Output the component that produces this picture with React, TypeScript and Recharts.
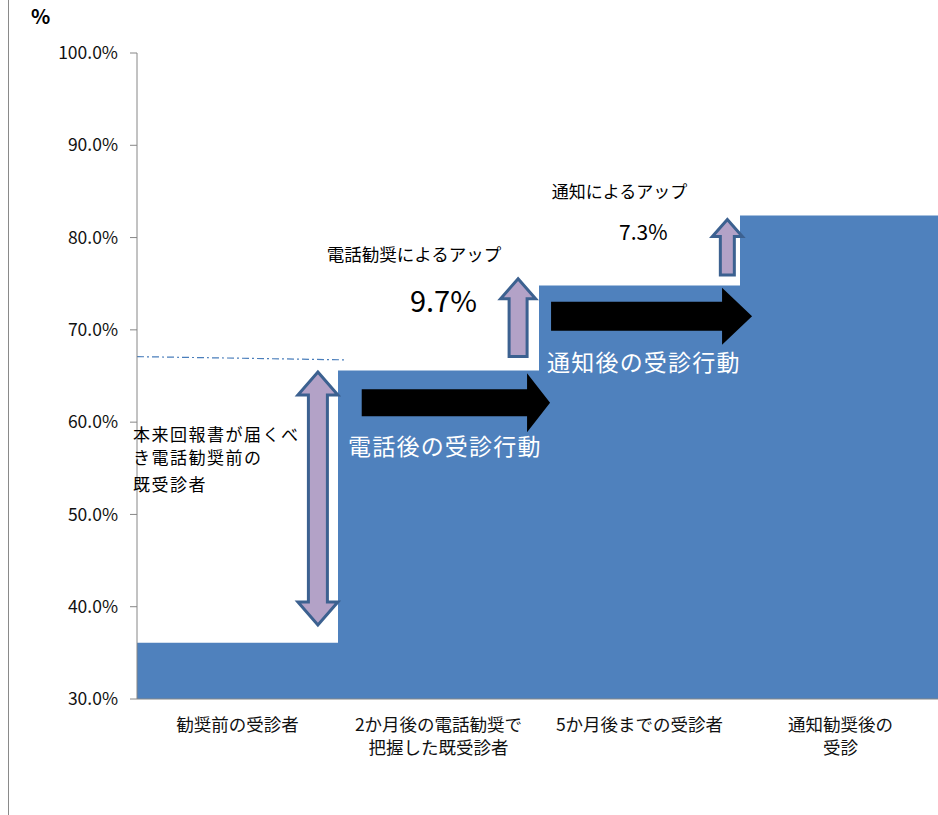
import React from "react";
import { BarChart, Bar, XAxis, YAxis, ReferenceLine, ReferenceDot } from "recharts";

const FONT = '"Noto Sans CJK JP", "Noto Sans", sans-serif';

const categories = [
  "勧奨前の受診者",
  "2か月後の電話勧奨で\n把握した既受診者",
  "5か月後までの受診者",
  "通知勧奨後の\n受診",
];
const values = [36.1, 65.6, 74.8, 82.4];
const yTicks = [30, 40, 50, 60, 70, 80, 90, 100];

// annotations, in data units (x on a 0..4 helper axis, y in %)
const baseline = { x1: 0, y1: 67.1, x2: 1.03, y2: 66.75 };

const notes = [
  { text: "本来回報書が届くべ", x: -0.02, y: 58.82, size: 17, color: "#000", spacing: 1.5 },
  { text: "き電話勧奨前の", x: -0.02, y: 56.28, size: 17, color: "#000", spacing: 1.5 },
  { text: "既受診者", x: -0.02, y: 53.4, size: 17, color: "#000", spacing: 1.5 },
  { text: "電話後の受診行動", x: 1.05, y: 57.55, size: 23, color: "#fff", spacing: 1.2 },
  { text: "通知後の受診行動", x: 2.04, y: 66.58, size: 23, color: "#fff", spacing: 1.2 },
  { text: "電話勧奨によるアップ", x: 0.944, y: 78.24, size: 17.5, color: "#000", spacing: 0 },
  { text: "9.7%", x: 1.358, y: 73.37, size: 29, color: "#000", spacing: 0 },
  { text: "通知によるアップ", x: 2.063, y: 85.1, size: 17, color: "#000", spacing: 0 },
  { text: "7.3%", x: 2.398, y: 80.74, size: 21, color: "#000", spacing: 0 },
];

const upArrows = [
  { x1: 0.9, y1: 38.02, x2: 0.9, y2: 65.43, sw: 19, hw: 40, hl: 23, double: true },
  { x1: 1.896, y1: 67.1, x2: 1.896, y2: 75.54, sw: 18, hw: 35, hl: 20, double: false },
  { x1: 2.937, y1: 75.95, x2: 2.937, y2: 81.96, sw: 14, hw: 30, hl: 17, double: false },
];

const rightArrows = [
  { x1: 1.118, y1: 62.1, x2: 2.055, y2: 62.1, sw: 27, hw: 59, hl: 23 },
  { x1: 2.06, y1: 71.47, x2: 3.06, y2: 71.47, sw: 29, hw: 57, hl: 30 },
];

const chartData = categories.map((name, i) => ({ name, value: values[i] }));

function arrowShape(sw: number, hw: number, hl: number, double: boolean, fill: string, stroke?: string) {
  return (p: any) => {
    const { x1, y1, x2, y2 } = p;
    const len = Math.hypot(x2 - x1, y2 - y1) || 1;
    const dx = (x2 - x1) / len;
    const dy = (y2 - y1) / len;
    const nx = -dy;
    const ny = dx;
    const pt = (bx: number, by: number, along: number, side: number) =>
      `${bx + dx * along + nx * side},${by + dy * along + ny * side}`;
    let pts: string[];
    if (double) {
      pts = [
        pt(x2, y2, 0, 0),
        pt(x2, y2, -hl, hw / 2),
        pt(x2, y2, -hl, sw / 2),
        pt(x1, y1, hl, sw / 2),
        pt(x1, y1, hl, hw / 2),
        pt(x1, y1, 0, 0),
        pt(x1, y1, hl, -hw / 2),
        pt(x1, y1, hl, -sw / 2),
        pt(x2, y2, -hl, -sw / 2),
        pt(x2, y2, -hl, -hw / 2),
      ];
    } else {
      pts = [
        pt(x2, y2, 0, 0),
        pt(x2, y2, -hl, hw / 2),
        pt(x2, y2, -hl, sw / 2),
        pt(x1, y1, 0, sw / 2),
        pt(x1, y1, 0, -sw / 2),
        pt(x2, y2, -hl, -sw / 2),
        pt(x2, y2, -hl, -hw / 2),
      ];
    }
    return (
      <polygon
        points={pts.join(" ")}
        fill={fill}
        stroke={stroke || "none"}
        strokeWidth={stroke ? 3 : 0}
        strokeLinejoin="miter"
      />
    );
  };
}

function noteShape(n: (typeof notes)[number]) {
  return (p: any) => (
    <text
      x={p.cx}
      y={p.cy}
      dominantBaseline="central"
      fontSize={n.size}
      fill={n.color}
      fontFamily={FONT}
      letterSpacing={n.spacing}
    >
      {n.text}
    </text>
  );
}

function CategoryTick({ x, y, payload }: any) {
  const lines = String(payload.value).split("\n");
  return (
    <text x={x} y={y + 32} textAnchor="middle" fontSize={17.5} fill="#111" fontFamily={FONT}>
      {lines.map((l, i) => (
        <tspan key={i} x={x} dy={i === 0 ? 0 : 23}>
          {l}
        </tspan>
      ))}
    </text>
  );
}

export default function App() {
  return (
    <div
      style={{
        position: "fixed",
        left: 0,
        top: 0,
        width: 938,
        height: 815,
        overflow: "hidden",
        background: "#fff",
        fontFamily: FONT,
      }}
    >
      <div style={{ position: "absolute", left: 8, top: 0, width: 1, height: 815, background: "#8a8a8a" }} />
      <div
        style={{
          position: "absolute",
          left: 31,
          top: 3,
          fontSize: 20,
          fontWeight: 700,
          lineHeight: "26px",
          color: "#000",
        }}
      >
        %
      </div>
      <BarChart
        width={941}
        height={815}
        data={chartData}
        margin={{ top: 53, right: 0, bottom: 0, left: 0 }}
        barCategoryGap={0}
      >
        <XAxis
          dataKey="name"
          height={116}
          tickLine={false}
          tickSize={0}
          tickMargin={0}
          interval={0}
          axisLine={{ stroke: "#868686" }}
          tick={<CategoryTick />}
        />
        {/* helper axis for placing annotations; needs a dataKey so the domain is respected */}
        <XAxis xAxisId="num" dataKey="value" type="number" domain={[0, 4]} allowDataOverflow hide />
        <YAxis
          domain={[30, 100]}
          ticks={yTicks}
          allowDataOverflow
          width={137}
          tickSize={7}
          tickMargin={12}
          axisLine={{ stroke: "#868686" }}
          tickLine={{ stroke: "#868686" }}
          tick={{ fontSize: 17.5, fill: "#111", fontFamily: FONT }}
          tickFormatter={(v: number) => `${v.toFixed(1)}%`}
        />
        <Bar dataKey="value" fill="#4f81bd" isAnimationActive={false} />
        <ReferenceLine
          xAxisId="num"
          ifOverflow="visible"
          segment={[
            { x: baseline.x1, y: baseline.y1 },
            { x: baseline.x2, y: baseline.y2 },
          ]}
          stroke="#4a7ebb"
          strokeWidth={1.2}
          strokeDasharray="7 3 2 3"
        />
        {upArrows.map((a, i) => (
          <ReferenceLine
            key={`u${i}`}
            xAxisId="num"
            ifOverflow="visible"
            segment={[
              { x: a.x1, y: a.y1 },
              { x: a.x2, y: a.y2 },
            ]}
            shape={arrowShape(a.sw, a.hw, a.hl, a.double, "#b3a2c7", "#3c6190")}
          />
        ))}
        {rightArrows.map((a, i) => (
          <ReferenceLine
            key={`r${i}`}
            xAxisId="num"
            ifOverflow="visible"
            segment={[
              { x: a.x1, y: a.y1 },
              { x: a.x2, y: a.y2 },
            ]}
            shape={arrowShape(a.sw, a.hw, a.hl, false, "#000")}
          />
        ))}
        {notes.map((n, i) => (
          <ReferenceDot
            key={`n${i}`}
            xAxisId="num"
            x={n.x}
            y={n.y}
            r={0}
            ifOverflow="visible"
            shape={noteShape(n)}
          />
        ))}
      </BarChart>
    </div>
  );
}
